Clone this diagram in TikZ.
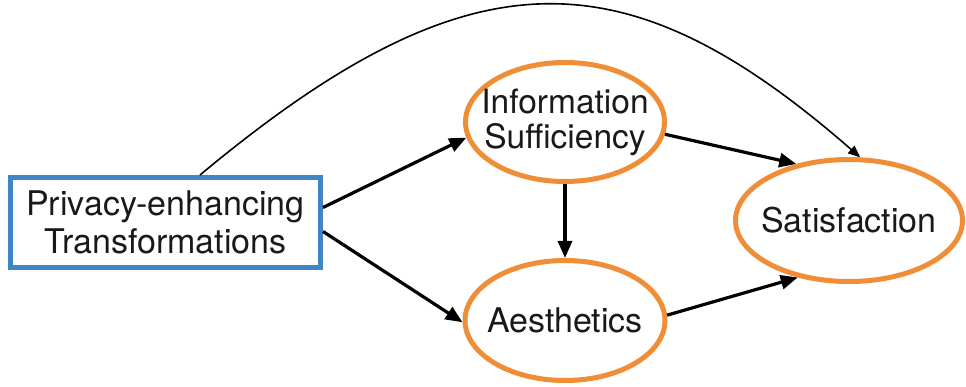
\documentclass[tikz,border=0pt]{standalone}
\usepackage{fontspec}
\setmainfont{TeX Gyre Heros}
\usetikzlibrary{shapes.geometric,arrows.meta,calc}
\definecolor{boxblue}{RGB}{64,134,199}
\definecolor{ovalorange}{RGB}{239,142,54}
\definecolor{inkgray}{RGB}{25,25,25}

\begin{document}
\begin{tikzpicture}[x=1pt,y=-1pt,
  labeltext/.style={font=\fontsize{34}{38}\selectfont, text=inkgray, align=center, inner sep=0pt},
  factorbox/.style={labeltext, draw=boxblue, line width=5pt, rectangle,
    minimum width=310pt, minimum height=90pt},
  construct/.style={draw=ovalorange, line width=5pt, ellipse, inner sep=0pt},
  pathar/.style={line width=3.2pt, -{Triangle[length=17pt,width=14pt]}},
  directar/.style={line width=1.6pt, -{Triangle[length=12pt,width=10pt]}}
]
\useasboundingbox (0,0) rectangle (966,387);

% independent variable
\node[factorbox] (pet) at (165.5,222.5) {Privacy-enhancing\\Transformations};

% mediators and outcome (outlines)
\node[construct, minimum width=199pt, minimum height=119pt] (info) at (565,122) {};
\node[construct, minimum width=200pt, minimum height=120pt] (aes) at (565,320.5) {};
\node[construct, minimum width=227pt, minimum height=122pt] (sat) at (849,220.5) {};

% their labels
\node[labeltext, font=\fontsize{33.5}{35}\selectfont] (infotext) at (info) {Information\\Sufficiency};
\node[labeltext] (aestext) at (aes) {Aesthetics};
\node[labeltext] (sattext) at (sat) {Satisfaction};

% indirect paths
\draw[pathar] ([yshift=15pt]pet.east) -- (info.189);
\draw[pathar] ([yshift=-9pt]pet.east) -- (aes.181);
\draw[pathar] (info.south) -- (aes.north);
\draw[pathar] (info.-7) -- (sat.133);
\draw[pathar] (aes.3) -- (sat.228);

% direct path
\draw[directar] ([xshift=34.5pt]pet.north) .. controls (470,-50) and (625,-48) .. (sat.80);
\end{tikzpicture}
\end{document}
